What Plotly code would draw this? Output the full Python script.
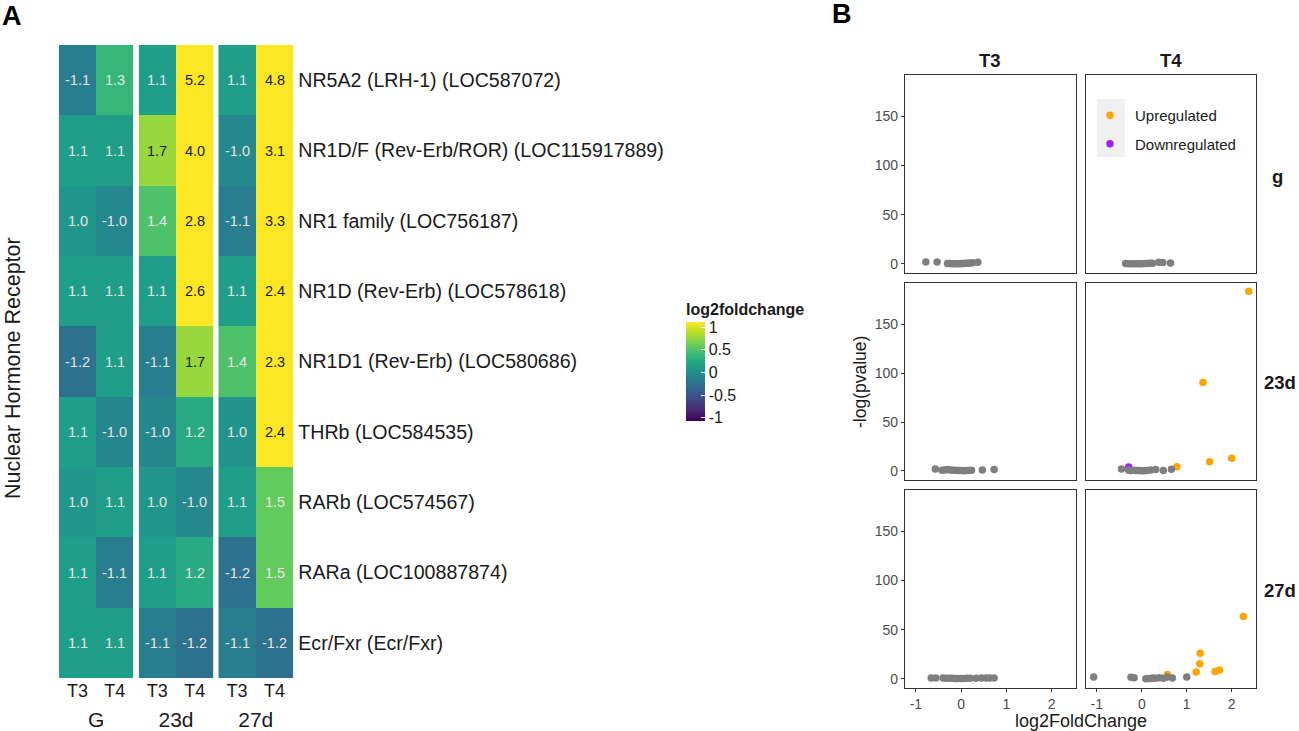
import plotly.graph_objects as go

# panel A data, rows top to bottom
receptors = ["NR5A2 (LRH-1) (LOC587072)", "NR1D/F (Rev-Erb/ROR) (LOC115917889)", "NR1 family (LOC756187)",
             "NR1D (Rev-Erb) (LOC578618)", "NR1D1 (Rev-Erb) (LOC580686)", "THRb (LOC584535)",
             "RARb (LOC574567)", "RARa (LOC100887874)", "Ecr/Fxr (Ecr/Fxr)"]
hormones = ["T3", "T4"]
groups = ["G", "23d", "27d"]

labels_g = [["-1.1", "1.3"], ["1.1", "1.1"], ["1.0", "-1.0"], ["1.1", "1.1"], ["-1.2", "1.1"],
            ["1.1", "-1.0"], ["1.0", "1.1"], ["1.1", "-1.1"], ["1.1", "1.1"]]
labels_23d = [["1.1", "5.2"], ["1.7", "4.0"], ["1.4", "2.8"], ["1.1", "2.6"], ["-1.1", "1.7"],
              ["-1.0", "1.2"], ["1.0", "-1.0"], ["1.1", "1.2"], ["-1.1", "-1.2"]]
labels_27d = [["1.1", "4.8"], ["-1.0", "3.1"], ["-1.1", "3.3"], ["1.1", "2.4"], ["1.4", "2.3"],
              ["1.0", "2.4"], ["1.1", "1.5"], ["-1.2", "1.5"], ["-1.1", "-1.2"]]

lfc_g = [[-0.14, 0.38], [0.14, 0.14], [0.07, -0.05], [0.14, 0.14], [-0.26, 0.14],
         [0.14, -0.07], [0.07, 0.14], [0.14, -0.14], [0.14, 0.14]]
lfc_23d = [[0.14, 2.38], [0.77, 2.0], [0.49, 1.49], [0.14, 1.38], [-0.14, 0.77],
           [-0.07, 0.26], [0.07, -0.05], [0.14, 0.26], [-0.14, -0.26]]
lfc_27d = [[0.14, 2.26], [-0.05, 1.63], [-0.14, 1.72], [0.14, 1.26], [0.49, 1.2],
           [0.05, 1.26], [0.14, 0.58], [-0.26, 0.58], [-0.14, -0.26]]

# panel B data
g_t3_x = [-0.78, -0.53, -0.3, -0.25, -0.2, -0.15, -0.1, -0.05, 0.0, 0.05, 0.1, 0.15, 0.2, 0.25, 0.37]
g_t3_y = [2, 2, 0.5, 0.4, 0.3, 0.3, 0.2, 0.3, 0.4, 0.5, 0.6, 0.8, 1, 1.2, 1.8]
g_t4_x = [-0.36, -0.3, -0.24, -0.18, -0.12, -0.06, 0.0, 0.06, 0.12, 0.18, 0.24, 0.38, 0.47, 0.64]
g_t4_y = [0.4, 0.3, 0.3, 0.2, 0.2, 0.2, 0.3, 0.4, 0.5, 0.6, 0.8, 1.8, 1.5, 1]
d23_t3_x = [-0.57, -0.42, -0.36, -0.3, -0.24, -0.18, -0.12, -0.06, 0.0, 0.06, 0.12, 0.18, 0.23, 0.47, 0.73]
d23_t3_y = [2, 0.8, 1, 1.4, 1, 0.8, 0.8, 0.5, 0.4, 0.3, 0.4, 0.5, 0.8, 1, 1.6]
d23_t4_x = [-0.45, -0.29, -0.24, -0.18, -0.12, -0.06, 0.0, 0.06, 0.12, 0.2, 0.31, 0.48, 0.66]
d23_t4_y = [2, 0.8, 0.6, 0.8, 0.5, 0.4, 0.2, 0.3, 0.5, 1, 1.4, 0.6, 1.8]
d23_up_x = [0.78, 1.36, 1.51, 2.0, 2.38]
d23_up_y = [4.4, 90.5, 9.5, 13, 183.7]
d23_down_x = [-0.29]
d23_down_y = [4]
d27_t3_x = [-0.66, -0.56, -0.4, -0.33, -0.26, -0.2, -0.13, -0.07, 0.0, 0.06, 0.13, 0.2, 0.33, 0.45, 0.55, 0.63, 0.73]
d27_t3_y = [1, 1, 1, 0.8, 0.8, 0.6, 0.5, 0.4, 0.5, 0.5, 0.6, 0.7, 0.8, 1, 1, 1, 1]
d27_t4_x = [-1.07, -0.24, -0.17, 0.09, 0.14, 0.2, 0.25, 0.3, 0.39, 0.48, 0.57, 0.68, 1.0]
d27_t4_y = [2, 1.6, 1.2, 0.3, 0.4, 0.5, 1, 0.7, 1.2, 0.8, 2, 1, 2]
d27_up_x = [0.57, 1.21, 1.29, 1.3, 1.63, 1.73, 2.26]
d27_up_y = [4.5, 7, 15.5, 26, 7.5, 9, 63.5]

W, H = 1299, 731
DARK = "#1a1a1a"
FONT = "Liberation Sans"
ORANGE = "#FFA500"
PURPLE = "#A020F0"
GRAY = "#7F7F7F"
MSIZE = 7.5


def xdom(a, b):
    return [a / W, b / W]


def ydom(top, bottom):
    return [1 - bottom / H, 1 - top / H]


fig = go.Figure()

# --- panel A
heat_cols = [(59, 133.3), (138.7, 213.3), (218.3, 293.3)]
heat_labels = [labels_g, labels_23d, labels_27d]
heat_lfc = [lfc_g, lfc_23d, lfc_27d]
annos = []
layout = {}
for i in range(3):
    ax = "" if i == 0 else str(i + 1)
    fig.add_trace(go.Heatmap(z=heat_lfc[i], x=hormones, y=receptors, coloraxis="coloraxis",
                             xaxis="x" + ax, yaxis="y" + ax, xgap=0, ygap=0))
    layout["xaxis" + ax] = dict(domain=xdom(*heat_cols[i]), anchor="y" + ax, showgrid=False, zeroline=False,
                                ticks="", tickfont=dict(size=18, color=DARK), automargin=False,
                                title=dict(text=groups[i], font=dict(size=21, color=DARK), standoff=19))
    layout["yaxis" + ax] = dict(domain=ydom(45, 678), anchor="x" + ax, autorange="reversed", showgrid=False,
                                zeroline=False, ticks="", automargin=False,
                                showticklabels=(i == 2), side="right" if i == 2 else "left",
                                ticklabelstandoff=4, tickfont=dict(size=19.6, color=DARK))
    for r, row in enumerate(heat_labels[i]):
        for c, lab in enumerate(row):
            light = heat_lfc[i][r][c] < 0.7
            annos.append(dict(x=hormones[c], y=receptors[r], xref="x" + ax, yref="y" + ax, text=lab,
                              showarrow=False, font=dict(size=14.5, color="#E6E6E6" if light else DARK)))

# --- panel B
rows_px = [(75, 273), (283, 480), (490, 688)]
cols_px = [(905, 1076), (1086, 1256)]
panel_x = [[g_t3_x, g_t4_x], [d23_t3_x, d23_t4_x], [d27_t3_x, d27_t4_x]]
panel_y = [[g_t3_y, g_t4_y], [d23_t3_y, d23_t4_y], [d27_t3_y, d27_t4_y]]
n = 4
axes = {}
for r in range(3):
    for c in range(2):
        ax = str(n)
        axes[(r, c)] = ax
        layout["xaxis" + ax] = dict(domain=xdom(*cols_px[c]), anchor="y" + ax, range=[-1.24, 2.54],
                                    tickvals=[-1, 0, 1, 2], ticktext=["-1", "0", "1", "2"],
                                    showgrid=False, zeroline=False,
                                    showline=True, mirror=True, linecolor="#333333", linewidth=1.4,
                                    ticks="outside" if r == 2 else "", ticklen=3, tickcolor="#333333",
                                    showticklabels=(r == 2), tickfont=dict(size=14, color="#4D4D4D"))
        layout["yaxis" + ax] = dict(domain=ydom(*rows_px[r]), anchor="x" + ax, range=[-9.2, 192],
                                    tickvals=[0, 50, 100, 150], showgrid=False, zeroline=False,
                                    showline=True, mirror=True, linecolor="#333333", linewidth=1.4,
                                    ticks="outside" if c == 0 else "", ticklen=3, tickcolor="#333333",
                                    showticklabels=(c == 0), tickfont=dict(size=14, color="#4D4D4D"))
        n += 1

# coloured points go first, the grey ones sit on top of them
fig.add_trace(go.Scatter(x=d23_up_x, y=d23_up_y, mode="markers", name="Upregulated", legendgroup="up",
                         marker=dict(color=ORANGE, size=MSIZE), xaxis="x" + axes[(1, 1)], yaxis="y" + axes[(1, 1)]))
fig.add_trace(go.Scatter(x=d23_down_x, y=d23_down_y, mode="markers", name="Downregulated", legendgroup="down",
                         marker=dict(color=PURPLE, size=MSIZE), xaxis="x" + axes[(1, 1)], yaxis="y" + axes[(1, 1)]))
fig.add_trace(go.Scatter(x=d27_up_x, y=d27_up_y, mode="markers", name="Upregulated", legendgroup="up",
                         showlegend=False, marker=dict(color=ORANGE, size=MSIZE),
                         xaxis="x" + axes[(2, 1)], yaxis="y" + axes[(2, 1)]))
for r in range(3):
    for c in range(2):
        fig.add_trace(go.Scatter(x=panel_x[r][c], y=panel_y[r][c], mode="markers", showlegend=False,
                                 marker=dict(color=GRAY, size=MSIZE),
                                 xaxis="x" + axes[(r, c)], yaxis="y" + axes[(r, c)]))


def paper_text(px, py, text, size, bold=False, angle=0, color=DARK, xanchor="center"):
    annos.append(dict(x=px / W, y=1 - py / H, xref="paper", yref="paper", text="<b>%s</b>" % text if bold else text,
                      showarrow=False, textangle=angle, xanchor=xanchor, yanchor="middle",
                      font=dict(size=size, color=color)))


paper_text(13, 368, "Nuclear Hormone Receptor", 21.5, angle=-90)
paper_text(990, 60, "T3", 18.5, bold=True)
paper_text(1171, 60, "T4", 18.5, bold=True)
paper_text(1277, 176, "g", 18.5, bold=True)
paper_text(1280, 383, "23d", 18.5, bold=True)
paper_text(1280, 590, "27d", 18.5, bold=True)
paper_text(1081, 721, "log2FoldChange", 18)
paper_text(860, 382, "-log(pvalue)", 17.5, angle=-90)
paper_text(0, 16, "A", 27, bold=True, color="black", xanchor="left")
paper_text(830, 14, "B", 27, bold=True, color="black", xanchor="left")

fig.update_layout(
    width=W, height=H, margin=dict(l=0, r=0, t=0, b=0), autosize=False,
    paper_bgcolor="white", plot_bgcolor="white",
    font=dict(family=FONT, color=DARK),
    coloraxis=dict(colorscale="Viridis", cmin=-1.07, cmax=1.11,
                   colorbar=dict(thicknessmode="pixels", thickness=19, lenmode="pixels", len=121,
                                 x=686 / W, xanchor="left", y=1 - 421 / H, yanchor="bottom",
                                 xpad=0, ypad=0, outlinewidth=0, tickvals=[-1, -0.5, 0, 0.5, 1],
                                 ticktext=["-1", "-0.5", "0", "0.5", "1"],
                                 ticks="inside", ticklen=4, tickcolor="white", tickwidth=1,
                                 tickfont=dict(size=16, color=DARK),
                                 title=dict(text="<b>log2foldchange</b>", side="top",
                                            font=dict(size=16, color=DARK)))),
    legend=dict(x=1085 / W, y=1 - 99 / H, xanchor="left", yanchor="top", bgcolor="rgba(0,0,0,0)",
                itemwidth=40, traceorder="grouped", tracegroupgap=6, font=dict(size=15, color=DARK),
                borderwidth=0),
    shapes=[dict(type="rect", xref="paper", yref="paper", x0=1097 / W, x1=1125 / W, y0=1 - 157 / H, y1=1 - 99 / H,
                 fillcolor="#F0F0F0", line=dict(width=0), layer="below")],
    annotations=annos,
    **layout,
)

fig.write_html("out.html", config={"displayModeBar": False}, post_script="document.body.style.margin='0';")
